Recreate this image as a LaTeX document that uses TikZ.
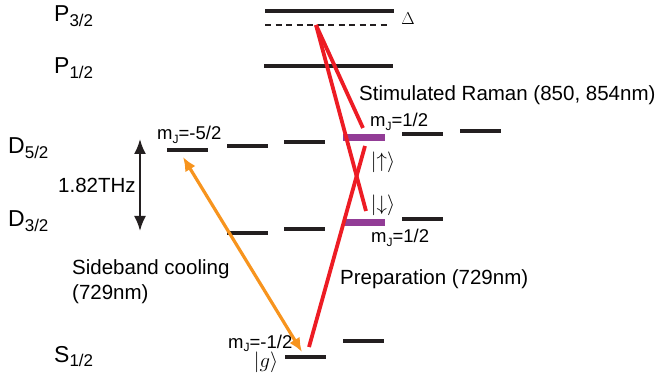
\documentclass[tikz,border=0pt]{standalone}
\usepackage{fontspec}
\setmainfont{Liberation Sans}
\usetikzlibrary{arrows.meta}
\definecolor{levelblack}{RGB}{35,31,32}
\definecolor{laserred}{RGB}{237,28,36}
\definecolor{coolorange}{RGB}{247,148,30}
\definecolor{qubitpurple}{RGB}{146,60,150}
\newcommand{\lsub}[2]{\raisebox{-0.35ex}{\fontsize{#2}{#2}\selectfont #1}}

\begin{document}
\begin{tikzpicture}[x=1pt, y=-1pt,
  lvl/.style={line width=4pt, levelblack},
  qubitlvl/.style={line width=7pt, qubitpurple},
  raman/.style={line width=3.8pt, laserred},
  coolarrow/.style={line width=3.2pt, coolorange, {Latex[length=14pt,width=12pt]}-{Latex[length=14pt,width=12pt]}},
  gap/.style={line width=2.2pt, levelblack, {Latex[length=15pt,width=12pt]}-{Latex[length=15pt,width=12pt]}},
  term/.style={font=\fontsize{23}{26}\selectfont, anchor=base west, inner sep=0pt},
  txt/.style={font=\fontsize{20.5}{25}\selectfont, anchor=base west, inner sep=0pt},
  mj/.style={font=\fontsize{18.5}{20}\selectfont, anchor=base west, inner sep=0pt},
  ket/.style={font=\fontsize{22}{22}\selectfont, inner sep=0pt}]
  \useasboundingbox (0,0) rectangle (659,382);

  % P levels
  \draw[lvl] (265,11.5) coordinate (p32) -- ++(129,0) coordinate (p32e);
  \draw[levelblack, line width=2.2pt, dash pattern=on 6pt off 4.5pt] (265,25) coordinate (virt0) -- (389,25) coordinate (virt1);
  \draw[lvl] (264,66) coordinate (p12) -- ++(129,0) coordinate (p12e);
  \node[font=\fontsize{18}{18}\selectfont] (delta) at (408,19) {$\Delta$};

  % D5/2 Zeeman sublevels
  \foreach \x/\y [count=\i] in {167/150, 227/146, 284/142, 402/134, 460/131}
    \draw[lvl] (\x,\y) coordinate (d5-\i) -- ++(41,0);
  \draw[qubitlvl] (343,138) coordinate (up) -- ++(42,0) coordinate (upe);

  % D3/2 sublevels and qubit
  \foreach \x/\y [count=\i] in {227/233, 284/229, 402/219}
    \draw[lvl] (\x,\y) coordinate (d3-\i) -- ++(41,0);
  \draw[qubitlvl] (343,223) coordinate (down) -- ++(42,0) coordinate (downe);

  % S1/2
  \draw[lvl] (285,357) coordinate (ground) -- ++(41,0) coordinate (grounde);
  \draw[lvl] (343,341) coordinate (s-2) -- ++(41,0);

  % term labels
  \node[term] (lp32) at (54,22) {P\lsub{3/2}{17}};
  \node[term] (lp12) at (54,74) {P\lsub{1/2}{17}};
  \node[term] (ld52) at (8,154) {D\lsub{5/2}{17}};
  \node[term] (ld32) at (8,227) {D\lsub{3/2}{17}};
  \node[term] (ls12) at (54,362) {S\lsub{1/2}{17}};

  % fine structure splitting
  \coordinate (gaptop) at (140,139);
  \coordinate (gapbot) at (140,231);
  \draw[gap] (gaptop) -- (gapbot);
  \node[txt] (thz) at (58,193) {1.82THz};

  % sublevel labels
  \node[mj] (mjm52) at (157,140) {m\lsub{J}{12}=-5/2};
  \node[mj] (mjup) at (370,127) {m\lsub{J}{12}=1/2};
  \node[mj] (mjdown) at (371,243) {m\lsub{J}{12}=1/2};
  \node[mj] (mjm12) at (228,348) {m\lsub{J}{12}=-1/2};
  \node[ket] (ketup) at (383,162) {$|{\uparrow}\rangle$};
  \node[ket] (ketdown) at (383,205) {$|{\downarrow}\rangle$};
  \node[ket] (ketg) at (266,362) {$|g\rangle$};

  % lasers
  \coordinate (virt) at (316,25);
  \coordinate (ramanA) at (363,128);
  \coordinate (ramanB) at (366,211);
  \coordinate (prepA) at (309,347);
  \coordinate (prepB) at (365,146);
  \draw[raman] (virt) -- (ramanA);
  \draw[raman] (virt) -- (ramanB);
  \draw[raman] (prepA) -- (prepB);
  \coordinate (coolA) at (183,157);
  \coordinate (coolB) at (302,352);
  \draw[coolarrow] (coolA) -- (coolB);

  % laser labels
  \node[txt] (lraman) at (359,101) {Stimulated Raman (850, 854nm)};
  \node[txt] (lprep) at (340,285) {Preparation (729nm)};
  \node[txt, align=left, anchor=north west] (lcool) at (72,259) {Sideband cooling\\(729nm)};
\end{tikzpicture}
\end{document}
